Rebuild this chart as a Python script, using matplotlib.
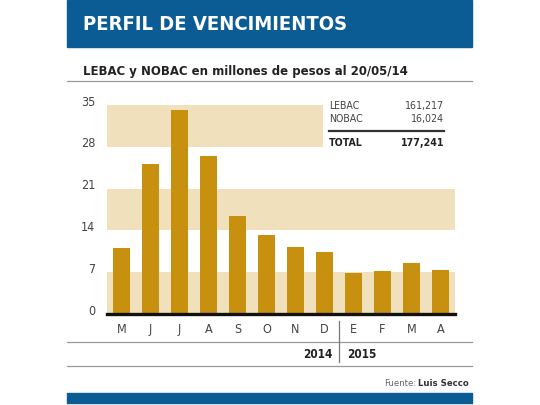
import matplotlib
matplotlib.use("Agg")
import matplotlib.pyplot as plt
from matplotlib.patches import Rectangle
from matplotlib.lines import Line2D

# data
months = ['M', 'J', 'J', 'A', 'S', 'O', 'N', 'D', 'E', 'F', 'M', 'A']
values = [11.1, 25.2, 34.2, 26.5, 16.4, 13.3, 11.2, 10.4, 6.8, 7.2, 8.5, 7.4]
yticks = [0, 7, 14, 21, 28, 35]
bands = [(0, 7), (14, 21), (28, 35)]
years = ['2014', '2015']
table_names = ['LEBAC', 'NOBAC']
table_values = ['161,217', '16,024']
total_value = '177,241'

BLUE = '#0b5c94'
GOLD = '#c8900f'
BAND = '#f1e0bc'
GREY = '#444444'

plt.rcParams['font.family'] = ['DejaVu Sans']
plt.rcParams['font.stretch'] = 'condensed'

W, H = 540, 405
fig = plt.figure(figsize=(5.4, 4.05), dpi=100)


def fx(x):
    return x / W


def fy(y):
    return 1 - y / H


def txt(x, y, s, **kw):
    kw.setdefault('va', 'center')
    kw.setdefault('fontstretch', 'condensed')
    return fig.text(fx(x), fy(y), s, **kw)


# header and footer bars
fig.patches.append(Rectangle((fx(67), fy(47)), fx(472) - fx(67), 47 / H,
                             transform=fig.transFigure, color=BLUE, zorder=0))
fig.patches.append(Rectangle((fx(67), fy(403)), fx(472) - fx(67), 10 / H,
                             transform=fig.transFigure, color=BLUE, zorder=0))
txt(83, 25, 'PERFIL DE VENCIMIENTOS', color='white', fontsize=14.5,
    fontweight='bold', ha='left')
txt(83, 72, 'LEBAC y NOBAC en millones de pesos al 20/05/14',
    color='#222222', fontsize=9.4, fontweight='bold', ha='left')
for yy in (81, 342, 366):
    fig.lines.append(Line2D([fx(67), fx(472)], [fy(yy), fy(yy)],
                            transform=fig.transFigure, color='#999999', lw=0.9))

# chart area
ax = fig.add_axes([fx(107), fy(314), fx(455) - fx(107), (314 - 105) / H])
ax.set_xlim(-0.5, len(months) - 0.5)
ax.set_ylim(0, 35)
ax.axis('off')

for lo, hi in bands:
    right = 0.62 if hi == 35 else 1.0
    ax.axhspan(lo, hi, xmin=0, xmax=right, color=BAND, lw=0, zorder=0)

x = list(range(len(months)))
ax.bar(x, values, width=0.58, color=GOLD, zorder=2)
ax.axhline(0, color='#111111', lw=2.4, zorder=3, clip_on=False)

for t in yticks:
    ax.text(-0.9, t + 0.5, str(t), ha='right', va='center', fontsize=9,
            color=GREY, fontstretch='condensed')
for i, m in enumerate(months):
    ax.text(i, -2.6, m, ha='center', va='center', fontsize=9,
            color=GREY, fontstretch='condensed')

# year divider and labels
fig.lines.append(Line2D([fx(339), fx(339)], [fy(321), fy(362)],
                        transform=fig.transFigure, color='#777777', lw=0.9))
txt(332, 355, years[0], ha='right', fontsize=8.5, fontweight='bold', color='#222222')
txt(347, 355, years[1], ha='left', fontsize=8.5, fontweight='bold', color='#222222')

# summary table
for j, (name, val) in enumerate(zip(table_names, table_values)):
    yy = 106 + j * 13
    txt(329, yy, name, ha='left', fontsize=7.6, color=GREY)
    txt(444, yy, val, ha='right', fontsize=7.6, color=GREY)
fig.lines.append(Line2D([fx(329), fx(444)], [fy(131), fy(131)],
                        transform=fig.transFigure, color='#333333', lw=1.6))
txt(329, 143, 'TOTAL', ha='left', fontsize=7.6, fontweight='bold', color='#222222')
txt(444, 143, total_value, ha='right', fontsize=7.6, fontweight='bold', color='#222222')

# source: place "Fuente:" just left of the bold name
src = txt(469, 383, 'Luis Secco', ha='right', fontsize=6.8, fontweight='bold',
          color='#333333')
fig.canvas.draw()
bb = src.get_window_extent()
fig.text(bb.x0 / W - 2 / W, fy(383), 'Fuente:', ha='right', va='center',
         fontsize=6.8, color='#666666', fontstretch='condensed')

fig.savefig('out.png', dpi=100)
